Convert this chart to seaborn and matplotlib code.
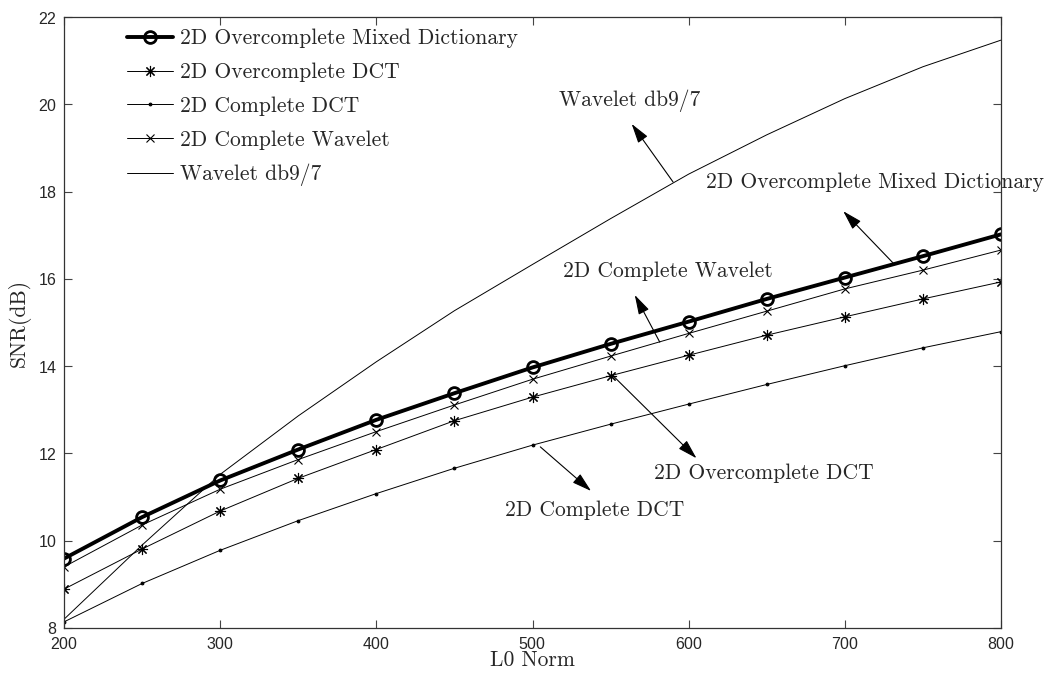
import matplotlib
matplotlib.use("Agg")
import matplotlib.pyplot as plt
import seaborn as sns
import numpy as np

# ---- data ----
l0_norm = [200, 250, 300, 350, 400, 450, 500, 550, 600, 650, 700, 750, 800]
mixed_dict = [9.59, 10.54, 11.38, 12.09, 12.77, 13.38, 13.97, 14.51, 15.02, 15.54, 16.03, 16.52, 17.02]
over_dct = [8.89, 9.81, 10.68, 11.43, 12.09, 12.75, 13.29, 13.78, 14.25, 14.71, 15.13, 15.54, 15.93]
complete_dct = [8.14, 9.02, 9.78, 10.46, 11.08, 11.66, 12.19, 12.67, 13.13, 13.58, 14.01, 14.42, 14.79]
complete_wav = [9.40, 10.36, 11.18, 11.86, 12.50, 13.11, 13.70, 14.23, 14.75, 15.26, 15.77, 16.20, 16.66]
wavelet_db97 = [8.20, 9.90, 11.52, 12.86, 14.10, 15.27, 16.33, 17.38, 18.40, 19.30, 20.13, 20.86, 21.47]

series_labels = ["2D Overcomplete Mixed Dictionary", "2D Overcomplete DCT",
                 "2D Complete DCT", "2D Complete Wavelet", "Wavelet db9/7"]
x_ticks = [200, 300, 400, 500, 600, 700, 800]
y_ticks = [8, 10, 12, 14, 16, 18, 20, 22]

# annotation texts: (label, text_xy, arrow_tail, arrow_head)
annotations = [
    ("Wavelet db9/7", (562, 20.08), (590, 18.22), (563.5, 19.55)),
    ("2D Overcomplete Mixed Dictionary", (719, 18.22), (731, 16.36), (699, 17.55)),
    ("2D Complete Wavelet", (587, 16.18), (581.5, 14.55), (565.5, 15.63)),
    ("2D Overcomplete DCT", (648, 11.55), (551, 13.80), (605, 11.89)),
    ("2D Complete DCT", (540, 10.70), (505, 12.15), (537.5, 11.14)),
]

sns.set_style("ticks")
serif = ["cmr10", "DejaVu Serif"]
plt.rcParams["font.family"] = ["Liberation Sans", "DejaVu Sans"]
plt.rcParams["axes.formatter.use_mathtext"] = True

fig = plt.figure(figsize=(10.44, 6.73), dpi=100)
ax = fig.add_axes([64 / 1044, 1 - 628 / 673, (1001 - 64) / 1044, (628 - 17) / 673])

sns.lineplot(x=l0_norm, y=mixed_dict, ax=ax, color="black", linewidth=2.8,
             marker="o", markersize=8.5, markerfacecolor="none",
             markeredgecolor="black", markeredgewidth=2.0, label=series_labels[0])
sns.lineplot(x=l0_norm, y=over_dct, ax=ax, color="black", linewidth=0.7,
             marker=(8, 2, 0), markersize=8, markeredgecolor="black",
             markeredgewidth=0.8, label=series_labels[1])
sns.lineplot(x=l0_norm, y=complete_dct, ax=ax, color="black", linewidth=0.7,
             marker=".", markersize=4, markeredgecolor="black",
             label=series_labels[2])
sns.lineplot(x=l0_norm, y=complete_wav, ax=ax, color="black", linewidth=0.7,
             marker="x", markersize=6, markeredgecolor="black",
             markeredgewidth=0.8, label=series_labels[3])
sns.lineplot(x=l0_norm, y=wavelet_db97, ax=ax, color="black", linewidth=0.7,
             label=series_labels[4])

ax.set_xlim(200, 800)
ax.set_ylim(8, 22)
ax.set_xticks(x_ticks)
ax.set_yticks(y_ticks)
ax.tick_params(direction="in", top=True, right=True, length=6, width=0.8,
               labelsize=11.5, color="#444444")
ax.tick_params(axis="x", pad=6)
ax.tick_params(axis="y", pad=5)
for s in ax.spines.values():
    s.set_linewidth(0.9)
    s.set_color("#333333")
    s.set_visible(True)

ax.set_xlabel("L0 Norm", family=serif, fontsize=15.5, labelpad=-1)
ax.set_ylabel("SNR(dB)", family=serif, fontsize=15.5, labelpad=5)

for txt, txy, tail, head in annotations:
    ax.text(txy[0], txy[1], txt, family=serif, fontsize=15.5,
            ha="center", va="center")
    ax.annotate("", xy=head, xytext=tail,
                arrowprops=dict(arrowstyle="-|>,head_length=0.75,head_width=0.22",
                                color="black", lw=0.8, mutation_scale=16,
                                shrinkA=0, shrinkB=0))

leg = ax.legend(loc="upper left", bbox_to_anchor=(0.055, 1.0), frameon=False,
                prop={"family": serif, "size": 15.5}, handlelength=2.1,
                handletextpad=0.35, labelspacing=0.66, borderaxespad=0.1,
                borderpad=0.45)

fig.savefig("out.png", dpi=100)
